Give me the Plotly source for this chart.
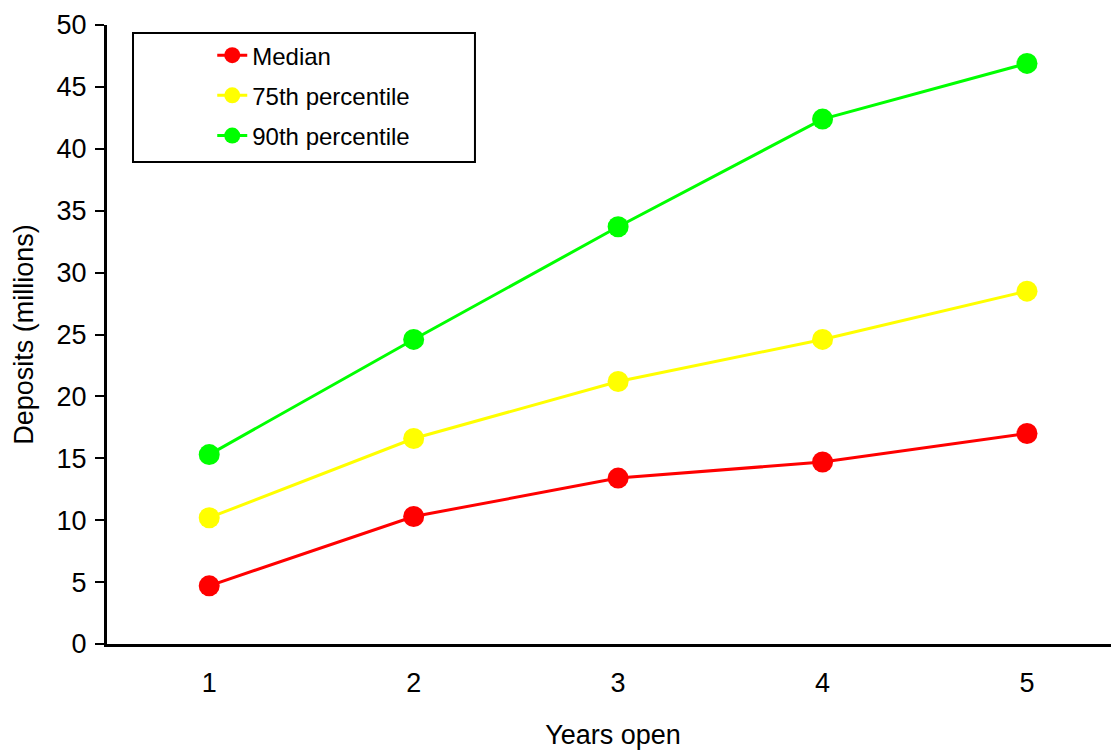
import plotly.graph_objects as go

years = [1, 2, 3, 4, 5]
median = [4.7, 10.3, 13.4, 14.7, 17.0]
p75 = [10.2, 16.6, 21.2, 24.6, 28.5]
p90 = [15.3, 24.6, 33.7, 42.4, 46.9]

series = [("Median", median, "#FF0000"),
          ("75th percentile", p75, "#FFFF00"),
          ("90th percentile", p90, "#00FF00")]

FONT = "Liberation Sans, Arial"

fig = go.Figure()
for name, vals, col in series:
    fig.add_trace(go.Scatter(x=years, y=vals, name=name, mode="lines+markers",
                             legendgroup=name,
                             line=dict(color=col, width=3),
                             marker=dict(color=col, size=21)))

# legend frame
fig.add_shape(type="rect", xref="paper", yref="paper",
              x0=0.0257, x1=0.3636, y0=0.7787, y1=0.987,
              line=dict(color="black", width=2), fillcolor="white", layer="below")

fig.update_layout(
    width=1111, height=742,
    margin=dict(l=99, r=0, t=17, b=106),
    paper_bgcolor="white", plot_bgcolor="white",
    font=dict(family=FONT, size=27, color="black"),
    showlegend=True,
    legend=dict(x=0.104, y=0.987, xanchor="left", yanchor="top",
                borderwidth=0, bgcolor="rgba(0,0,0,0)",
                font=dict(family=FONT, size=24, color="black"),
                itemsizing="trace", tracegroupgap=6),
    xaxis=dict(range=[0.5, 5.45], tickvals=years, ticktext=[str(v) for v in years],
               showline=True, linecolor="black", linewidth=3, ticks="",
               showgrid=False, zeroline=False, automargin=False,
               ticklabelstandoff=13,
               tickfont=dict(family=FONT, size=27, color="black"),
               title=dict(text="Years open", standoff=35,
                          font=dict(family=FONT, size=27, color="black"))),
    yaxis=dict(range=[0, 50], dtick=5, showline=True, linecolor="black", linewidth=3,
               ticks="outside", ticklen=9, tickwidth=2, tickcolor="black",
               showgrid=False, zeroline=False, automargin=False,
               ticklabelstandoff=3,
               tickfont=dict(family=FONT, size=27, color="black"),
               title=dict(text="Deposits (millions)", standoff=16,
                          font=dict(family=FONT, size=27, color="black"))),
)

fig.write_html("out.html")
